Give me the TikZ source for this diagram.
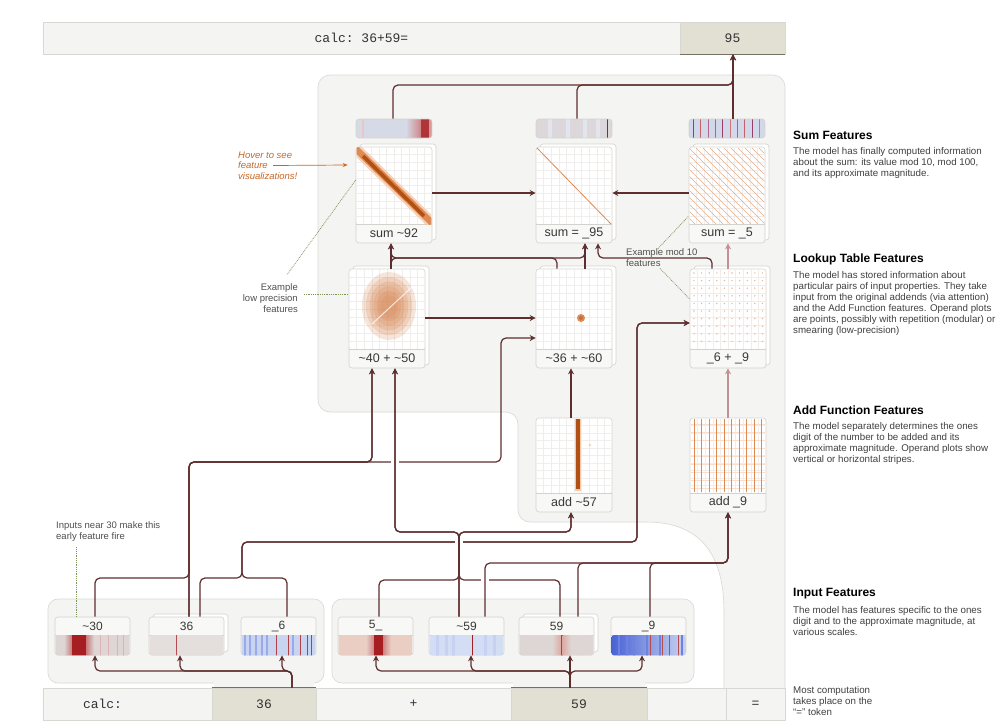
\documentclass[tikz,border=0pt]{standalone}
\usepackage{fontspec}
\setmainfont{Liberation Sans}
\setsansfont{Liberation Sans}
\setmonofont{Liberation Mono}
\usetikzlibrary{arrows.meta, positioning, calc}

\definecolor{regionbg}{RGB}{244, 244, 242}
\definecolor{regionedge}{RGB}{216, 216, 211}
\definecolor{tokenbg}{RGB}{226, 223, 211}
\definecolor{tokenrule}{RGB}{118, 112, 98}
\definecolor{wirered}{RGB}{94, 46, 46}
\definecolor{wirepink}{RGB}{196, 144, 144}
\definecolor{cardedge}{RGB}{212, 210, 204}
\definecolor{labelbg}{RGB}{248, 248, 246}
\definecolor{gridgray}{RGB}{240, 238, 236}
\definecolor{heatdark}{RGB}{176, 80, 20}
\definecolor{heatmid}{RGB}{222, 138, 82}
\definecolor{heatlight}{RGB}{244, 200, 168}
\definecolor{hoverorange}{RGB}{200, 104, 40}
\definecolor{noteolive}{RGB}{128, 148, 88}
\definecolor{notegray}{RGB}{80, 80, 80}
\definecolor{stripgray}{RGB}{222, 214, 212}
\definecolor{strippeach}{RGB}{234, 206, 196}
\definecolor{stripred}{RGB}{166, 30, 34}
\definecolor{stripblue}{RGB}{200, 212, 240}
\definecolor{stripdeep}{RGB}{72, 98, 214}
\definecolor{stripviolet}{RGB}{150, 64, 104}
\definecolor{barbase}{RGB}{214, 218, 230}

\tikzset{
  card/.style={draw=cardedge, fill=labelbg, rounded corners=3pt, minimum width=76pt, inner sep=0pt, line width=0.6pt},
  cardback/.style={card, fill=white},
  cardrule/.style={draw=cardedge, line width=0.6pt},
  cardlab/.style={font=\fontsize{12.5}{14}\selectfont, text=black!78, inner sep=0pt},
  inlab/.style={font=\fontsize{12}{14}\selectfont, text=black!78, inner sep=0pt},
  gridline/.style={draw=gridgray, line width=0.45pt},
  barbox/.style={draw=cardedge, rounded corners=3pt, minimum width=76pt, minimum height=19pt, inner sep=0pt, line width=0.6pt},
  tokenlight/.style={draw=regionedge, fill=regionbg, inner sep=0pt, minimum height=32pt, line width=0.6pt, font=\ttfamily\fontsize{13}{15}\selectfont, text=black!80},
  tokendark/.style={tokenlight, fill=tokenbg},
  tokenline/.style={draw=tokenrule, line width=1.2pt},
  wire/.style={draw=wirered, line width=1.2pt, rounded corners=5pt, -{Stealth[length=6pt, width=6pt]}},
  wirelight/.style={wire, draw=wirepink},
  groupbox/.style={draw=regionedge, fill=regionbg, rounded corners=10pt, line width=0.6pt},
  halo/.style={draw=white, line width=4pt},
  headtext/.style={font=\bfseries\fontsize{12}{14}\selectfont, inner sep=0pt, anchor=west},
  bodytext/.style={font=\fontsize{9.75}{11}\selectfont, text=black!75, inner sep=0pt, anchor=north west, align=left},
  notetext/.style={font=\fontsize{9.5}{10.6}\selectfont, text=notegray, inner sep=0pt},
  notedot/.style={draw=noteolive, densely dotted, line width=0.8pt},
  hovertext/.style={font=\itshape\fontsize{9.5}{10.6}\selectfont, text=hoverorange, inner sep=0pt, align=left},
  hoverarrow/.style={draw=hoverorange, line width=0.7pt, -{Stealth[length=5pt, width=4pt]}},
}

% feature card: name, left x, top y, bottom y, label, stacked (1 or 0)
\newcommand{\featcard}[6]{%
  \pgfmathsetmacro{\fcx}{#2+38}%
  \pgfmathsetmacro{\fcy}{(#3+#4)/2}%
  \pgfmathsetmacro{\fch}{#4-#3}%
  \pgfmathsetmacro{\fpy}{#4-19}%
  \pgfmathsetmacro{\fgy}{(\fpy-#3)/10}%
  \ifnum#6=1
    \node[cardback, minimum height=\fch pt] at (\fcx+4,\fcy-3) {};
  \fi
  \node[card, minimum height=\fch pt] (#1) at (\fcx,\fcy) {};
  \fill[white, rounded corners=2.5pt] (#2+0.6,#3+0.6) rectangle (#2+75.4,\fpy);
  \foreach \g in {1,...,9}{
    \draw[gridline] ({#2+\g*7.6},#3+0.6) -- ({#2+\g*7.6},\fpy);
    \draw[gridline] (#2+0.6,{#3+\g*\fgy}) -- (#2+75.4,{#3+\g*\fgy});
  }
  \draw[cardrule] (#2,\fpy) -- (#2+76,\fpy);
  \node[cardlab] (#1-lab) at (\fcx,\fpy+9.5) {#5};
}

% input card: name, left x, label, stacked (1 or 0)
\newcommand{\inputcard}[4]{%
  \pgfmathsetmacro{\icx}{#2+37.5}%
  \ifnum#4=1
    \node[cardback, minimum width=75pt, minimum height=38pt] at (\icx+4,633) {};
  \fi
  \node[card, minimum width=75pt, minimum height=38pt] (#1) at (\icx,636) {};
  \node[inlab] (#1-lab) at (\icx,626) {#3};
  \draw[cardrule] (#2,635) -- (#2+75,635);
}

\begin{document}
\begin{tikzpicture}[x=1pt, y=-1pt]
  \useasboundingbox (0,0) rectangle (1004,726);
  \fill[white] (0,0) rectangle (1004,726);

  % Region of the "=" token
  \draw[draw=regionedge, fill=regionbg, line width=0.6pt]
    (724,689) -- (724,612) .. controls (724,556) and (702,522) .. (646,522)
    [rounded corners=12pt] -- (518,522) -- (518,412) -- (318,412) -- (318,75) -- (785,75) -- (785,689);

  % Input token groups
  \draw[groupbox] (48,599) rectangle (324,683);
  \draw[groupbox] (332,599) rectangle (694,683);
  \fill[regionbg] (214,679) rectangle (314,689);
  \fill[regionbg] (513,679) rectangle (645,689);

  % Output token row
  \node[tokenlight, minimum width=637pt] (prompt) at (361.5,38) {calc: 36+59=};
  \node[tokendark, minimum width=105pt] (ans) at (732.5,38) {95};
  \draw[tokenline] (ans.south west) -- (ans.south east);

  % Input token row
  \node[tokenlight, minimum width=169pt, text width=89pt, align=left] (tcalc) at (127.5,704) {calc:};
  \node[tokendark, minimum width=104pt] (t36) at (264,704) {36};
  \node[tokenlight, minimum width=195pt] (tplus) at (413.5,704) {+};
  \node[tokendark, minimum width=136pt] (t59) at (579,704) {59};
  \node[tokenlight, minimum width=79pt] (tgap) at (686.5,704) {};
  \node[tokenlight, minimum width=59pt] (teq) at (755.5,704) {=};
  \draw[tokenline] (t36.north west) -- (t36.north east);
  \draw[tokenline] (t59.north west) -- (t59.north east);

  % Sum feature activation bars
  \begin{scope}
    \clip[rounded corners=3pt] (356,119) rectangle (432,138);
    \fill[barbase] (356,119) rectangle (432,138);
    \fill[stripred!25] (362,119) rectangle ++(2,19);
    \shade[left color=barbase, right color=stripred!55] (406,119) rectangle (421,138);
    \fill[stripred!90] (421,119) rectangle (429,138);
    \fill[stripred!45] (429,119) rectangle (432,138);
  \end{scope}
  \node[barbox] (bar92) at (394,128.5) {};
  \begin{scope}
    \clip[rounded corners=3pt] (536,119) rectangle (612,138);
    \fill[stripgray!70!barbase] (536,119) rectangle (612,138);
    \foreach \sx in {548,566,583,596} \fill[barbase!70!white] (\sx,119) rectangle ++(4,19);
    \fill[stripred] (607,119) rectangle ++(1.4,19);
  \end{scope}
  \node[barbox] (bar95) at (574,128.5) {};
  \begin{scope}
    \clip[rounded corners=3pt] (689,119) rectangle (765,138);
    \fill[barbase!70!stripblue] (689,119) rectangle (765,138);
    \foreach \sx/\sc in {693/stripviolet, 700/stripred!70, 708/stripviolet!80, 715/stripred!70, 722/stripviolet, 730/stripred!60, 737/stripviolet!80, 744/stripred!70, 752/stripviolet, 759/stripred!60}
      \fill[\sc] (\sx,119) rectangle ++(1.2,19);
  \end{scope}
  \node[barbox] (bar5) at (727,128.5) {};

  % Sum features
  \featcard{s92}{356}{147}{243}{sum \textasciitilde92}{1}
  \begin{scope}
    \clip (356.6,147.6) rectangle (431.4,224);
    \draw[heatlight, line width=11pt, opacity=0.8] (355,148) -- (433,224);
    \draw[heatmid, line width=6.5pt] (356,149) -- (432,223);
    \draw[heatdark, line width=3.5pt] (363,156) -- (424,216);
  \end{scope}
  \featcard{s95}{536}{147}{243}{sum = \_95}{1}
  \begin{scope}
    \clip (536.6,147.6) rectangle (611.4,224);
    \draw[heatmid, line width=0.8pt] (537,148) -- (611,224);
  \end{scope}
  \featcard{s5}{689}{147}{243}{sum = \_5}{1}
  \begin{scope}
    \clip (689.6,147.6) rectangle (764.4,224);
    \foreach \k in {-70,-63,...,70} \draw[heatmid!70, line width=0.6pt] ({689+\k},148) -- ({765+\k},224);
  \end{scope}

  % Lookup table features
  \featcard{l4050}{349}{269}{368}{\textasciitilde40 + \textasciitilde50}{1}
  \begin{scope}
    \clip (349.6,269.6) rectangle (424.4,349);
    \foreach \r in {1.0,0.86,0.72,0.58,0.45,0.32}
      \fill[heatmid!80!heatdark, opacity=0.2] (389,306) ellipse [x radius={\r*27pt}, y radius={\r*34pt}];
    \draw[white, line width=1pt, opacity=0.75] (372,324) -- (412,287);
  \end{scope}
  \featcard{l3660}{536}{269}{368}{\textasciitilde36 + \textasciitilde60}{1}
  \fill[heatmid] (581,318) circle [radius=4pt];
  \fill[heatdark!80] (581,318) circle [radius=2pt];
  \featcard{l69}{690}{269}{368}{\_6 + \_9}{1}
  \foreach \i in {0,...,9} \foreach \j in {0,...,9}
    \fill[heatmid!60] ({694+\i*7.6},{273+\j*7.6}) circle [radius=0.8pt];

  % Add function features
  \featcard{a57}{536}{418}{512}{add \textasciitilde57}{0}
  \draw[heatlight, line width=6pt] (578,419) -- (578,491);
  \draw[heatdark, line width=3.5pt] (578,419) -- (578,489);
  \fill[heatlight] (590,445) circle [radius=1.2pt];
  \featcard{a9}{690}{418}{512}{add \_9}{0}
  \foreach \k in {0,...,8} \draw[heatlight!60, line width=0.5pt] (691,{424+\k*8}) -- (765,{424+\k*8});
  \foreach \k in {0,...,9} \draw[heatmid, line width=0.9pt] ({694+\k*7.5},419) -- ({694+\k*7.5},492);

  % Input features
  \inputcard{in30}{55}{\textasciitilde30}{0}
  \begin{scope}
    \clip[rounded corners=2.5pt] (55.6,635) rectangle (129.4,655.4);
    \fill[stripgray] (55,635) rectangle (130,656);
    \shade[left color=stripgray, right color=stripred!60] (64,635) rectangle (72,656);
    \fill[stripred] (72,635) rectangle (86,656);
    \shade[left color=stripred!60, right color=stripgray] (86,635) rectangle (94,656);
    \foreach \sx in {100,108,117,123} \fill[stripred!35] (\sx,635) rectangle ++(1.2,21);
  \end{scope}
  \inputcard{in36}{149}{36}{1}
  \begin{scope}
    \clip[rounded corners=2.5pt] (149.6,635) rectangle (223.4,655.4);
    \fill[stripgray!80!white] (149,635) rectangle (224,656);
    \fill[stripred!80] (176,635) rectangle ++(1.4,21);
  \end{scope}
  \inputcard{in6}{241}{\_6}{0}
  \begin{scope}
    \clip[rounded corners=2.5pt] (241.6,635) rectangle (315.4,655.4);
    \fill[stripblue] (241,635) rectangle (316,656);
    \foreach \sx in {244,249,255,261,266,292} \fill[stripdeep!55] (\sx,635) rectangle ++(2.2,21);
    \foreach \sx in {276,288,300,307,311} \fill[stripred!85] (\sx,635) rectangle ++(1.2,21);
  \end{scope}
  \inputcard{in5}{338}{5\_}{0}
  \begin{scope}
    \clip[rounded corners=2.5pt] (338.6,635) rectangle (412.4,655.4);
    \fill[strippeach] (338,635) rectangle (413,656);
    \shade[left color=strippeach, right color=stripred!55] (366,635) rectangle (374,656);
    \fill[stripred] (374,635) rectangle (383,656);
    \shade[left color=stripred!55, right color=strippeach] (383,635) rectangle (391,656);
  \end{scope}
  \inputcard{in59m}{429}{\textasciitilde59}{0}
  \begin{scope}
    \clip[rounded corners=2.5pt] (429.6,635) rectangle (503.4,655.4);
    \fill[stripblue!80!white] (429,635) rectangle (504,656);
    \foreach \sx in {436,445,452,484,493} \fill[stripdeep!30] (\sx,635) rectangle ++(3,21);
    \fill[stripred] (472,635) rectangle ++(1.4,21);
  \end{scope}
  \inputcard{in59}{519}{59}{1}
  \begin{scope}
    \clip[rounded corners=2.5pt] (519.6,635) rectangle (593.4,655.4);
    \fill[stripgray] (519,635) rectangle (594,656);
    \shade[left color=stripgray, right color=strippeach!80!stripred] (552,635) rectangle (561,656);
    \fill[stripred!70!heatmid] (561,635) rectangle ++(1.6,21);
    \shade[left color=strippeach!80!stripred, right color=stripgray] (562.6,635) rectangle (571,656);
  \end{scope}
  \inputcard{in9}{611}{\_9}{0}
  \begin{scope}
    \clip[rounded corners=2.5pt] (611.6,635) rectangle (685.4,655.4);
    \shade[left color=stripdeep, right color=stripblue] (611,635) rectangle (686,656);
    \foreach \sx in {618,626,633,646,659,681} \fill[stripdeep!80] (\sx,635) rectangle ++(2,21);
    \foreach \sx in {650,662,669,678} \fill[stripred!80] (\sx,635) rectangle ++(1.2,21);
  \end{scope}

  % Tokens to input features
  \draw[wire] (292,0 |- t36.north) -- (292,671) -- (95,671) -- (95,0 |- in30.south);
  \draw[wire] (292,0 |- t36.north) -- (292,671) -- (180,671) -- (180,0 |- in36.south);
  \draw[wire] (292,0 |- t36.north) -- (292,671) -- (282,671) -- (282,0 |- in6.south);
  \draw[wire] (570,0 |- t59.north) -- (570,671) -- (376,671) -- (376,0 |- in5.south);
  \draw[wire] (570,0 |- t59.north) -- (570,671) -- (471,671) -- (471,0 |- in59m.south);
  \draw[wire] (570,0 |- t59.north) -- (570,0 |- in59.south);
  \draw[wire] (570,0 |- t59.north) -- (570,671) -- (642,671) -- (642,0 |- in9.south);

  % Input features to lookup tables
  \draw[wire] (95,0 |- in30.north) -- (95,578) -- (189,578) -- (189,462) -- (372,462) -- (372,0 |- l4050.south);
  \draw[wire] (189,0 |- in36.north) -- (189,462) -- (372,462) -- (372,0 |- l4050.south);
  \draw[wire] (189,0 |- in36.north) -- (189,462) -- (501,462) -- (501,338) -- (l3660.west |- 0,338);
  \draw[wire] (200,0 |- in36.north) -- (200,578) -- (242,578) -- (242,542) -- (637,542) -- (637,323) -- (l69.west |- 0,323);
  \draw[wire] (287,0 |- in6.north) -- (287,578) -- (242,578) -- (242,542) -- (637,542) -- (637,323) -- (l69.west |- 0,323);
  \draw[halo] (391,462) -- (399,462);
  \draw[halo] (455,542) -- (463,542);

  % Input features to add ~57
  \draw[wire] (379,0 |- in5.north) -- (379,580) -- (459,580) -- (459,532) -- (395,532) -- (395,0 |- l4050.south);
  \draw[wire] (560,0 |- in59.north) -- (560,580) -- (459,580) -- (459,532) -- (571,532) -- (571,0 |- a57.south);
  \draw[wire] (459,0 |- in59m.north) -- (459,532) -- (395,532) -- (395,0 |- l4050.south);
  \draw[wire] (459,0 |- in59m.north) -- (459,532) -- (571,532) -- (571,0 |- a57.south);
  \draw[halo] (481,580) -- (489,580);

  % Input features to add _9
  \draw[wire] (485,0 |- in59m.north) -- (485,563) -- (728,563) -- (728,0 |- a9.south);
  \draw[wire] (578,0 |- in59.north) -- (578,563) -- (728,563) -- (728,0 |- a9.south);
  \draw[wire] (650,0 |- in9.north) -- (650,563) -- (728,563) -- (728,0 |- a9.south);

  % Add functions and lookup tables to sums
  \draw[wire] (571,0 |- a57.north) -- (571,0 |- l3660.south);
  \draw[wirelight] (728,0 |- a9.north) -- (728,0 |- l69.south);
  \draw[wire] (l4050.east |- 0,318) -- (l3660.west |- 0,318);
  \draw[wire] (391,0 |- l4050.north) -- (391,0 |- s92.south);
  \draw[wire] (391,0 |- l4050.north) -- (391,258) -- (585,258) -- (585,0 |- s95.south);
  \draw[wire] (557,0 |- l3660.north) -- (557,258) -- (391,258) -- (391,0 |- s92.south);
  \draw[wire] (585,0 |- l3660.north) -- (585,0 |- s95.south);
  \draw[wire] (712,0 |- l69.north) -- (712,258) -- (598,258) -- (598,0 |- s95.south);
  \draw[wirelight] (728,0 |- l69.north) -- (728,0 |- s5.south);
  \draw[wire] (s92.east |- 0,193) -- (s95.west |- 0,193);
  \draw[wire] (s5.west |- 0,193) -- (s95.east |- 0,193);

  % Sums to the answer
  \draw[wire] (393,0 |- bar92.north) -- (393,85) -- (733,85) -- (733,0 |- ans.south);
  \draw[wire] (577,0 |- bar95.north) -- (577,85) -- (733,85) -- (733,0 |- ans.south);
  \draw[wire] (733,0 |- bar5.north) -- (733,0 |- ans.south);

  % Notes
  \node[hovertext, anchor=west] (hovernote) at (238,165.5) {Hover to see\\feature\\visualizations!};
  \draw[hoverarrow] (hovernote.west) ++(35,0) -- ($(s92.west |- 0,165)+(-8,0)$);
  \node[notetext, anchor=east, align=right] (lownote) at (298,298) {Example\\low precision\\features};
  \draw[notedot] (s92.west |- 0,180) -- ($(lownote.north east)+(-11,-9)$);
  \draw[notedot] (lownote.east |- 0,294) ++(6,0) -- (l4050.west |- 0,294);
  \node[notetext, anchor=west, align=left] (modnote) at (626,257.5) {Example mod 10\\features};
  \draw[notedot] (modnote.north west) ++(32,0) -- (s5.west |- 0,216);
  \draw[notedot] (modnote.south west) ++(34,2) -- (l69.west |- 0,299);
  \node[notetext, anchor=west, align=left] (firenote) at (56,531.5) {Inputs near 30 make this\\early feature fire};
  \draw[notedot] (76,0 |- firenote.south) ++(0,6) -- (76,0 |- in30.north);

  % Side captions
  \node[headtext] (sumhead) at (793,135) {Sum Features};
  \node[bodytext] (sumtext) at (793,147.5) {The model has finally computed information\\about the sum: its value mod 10, mod 100,\\and its approximate magnitude.};
  \node[headtext] (lookhead) at (793,259) {Lookup Table Features};
  \node[bodytext] (looktext) at (793,271.5) {The model has stored information about\\particular pairs of input properties. They take\\input from the original addends (via attention)\\and the Add Function features. Operand plots\\are points, possibly with repetition (modular) or\\smearing (low-precision)};
  \node[headtext] (addhead) at (793,410) {Add Function Features};
  \node[bodytext] (addtext) at (793,422.5) {The model separately determines the ones\\digit of the number to be added and its\\approximate magnitude. Operand plots show\\vertical or horizontal stripes.};
  \node[headtext] (inhead) at (793,594) {Input Features};
  \node[bodytext] (intext) at (793,606.5) {The model has features specific to the ones\\digit and to the approximate magnitude, at\\various scales.};
  \node[bodytext] (eqtext) at (793,686.5) {Most computation\\takes place on the\\``='' token};
\end{tikzpicture}
\end{document}
